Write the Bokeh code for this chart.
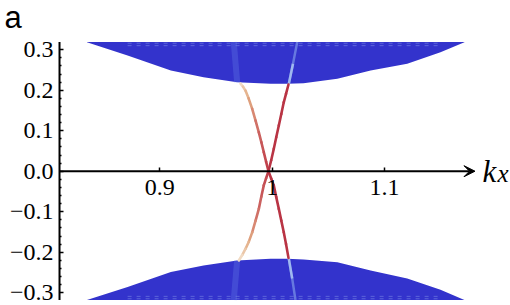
from bokeh.plotting import figure
from bokeh.models import Range1d, FixedTicker, Label, Arrow, VeeHead
from bokeh.embed import file_html
from bokeh.resources import INLINE

# ---------------- data ----------------
# visible window of the whole canvas, in data units
view_k = (0.75817, 1.21211)
view_E = (-0.33160, 0.42148)
# where the drawn axes start / end
axis_k_start, axis_k_end = 0.8107, 1.1805
axis_E_start, axis_E_end = -0.3178, 0.3190

band_k = [0.8351, 0.8713, 0.9098, 0.9389, 0.9688, 0.9985, 1.0134, 1.0279, 1.0580, 1.0876, 1.1202, 1.1498, 1.1711]
upper_band_edge = [0.3185, 0.2857, 0.2486, 0.2321, 0.2198, 0.2158, 0.2158, 0.2173, 0.2281, 0.2486, 0.2652, 0.2938, 0.3185]
lower_band_edge = [-0.3178, -0.2860, -0.2490, -0.2330, -0.2205, -0.2160, -0.2160, -0.2180, -0.2247, -0.2450, -0.2650, -0.2930, -0.3178]

upper_left_k = [0.9718, 0.9740, 0.9762, 0.9790, 0.9822, 0.9852, 0.9881, 0.9904, 0.9925, 0.9946, 0.9967]
upper_left_E = [0.216, 0.209, 0.199, 0.180, 0.154, 0.125, 0.096, 0.071, 0.047, 0.023, 0.0]
upper_right_k = [1.0145, 1.0123, 1.0103, 1.0081, 1.0059, 1.0036, 1.0014, 0.9991, 0.9967]
upper_right_E = [0.214, 0.191, 0.170, 0.141, 0.113, 0.084, 0.055, 0.027, 0.0]
lower_left_k = [0.9967, 0.9946, 0.9925, 0.9903, 0.9881, 0.9852, 0.9822, 0.9792, 0.9762, 0.9733, 0.9703]
lower_left_E = [0.0, -0.017, -0.035, -0.063, -0.093, -0.122, -0.151, -0.174, -0.192, -0.207, -0.2205]
lower_right_k = [0.9967, 0.9991, 1.0014, 1.0036, 1.0059, 1.0081, 1.0103, 1.0123, 1.0145]
lower_right_E = [0.0, -0.018, -0.035, -0.064, -0.093, -0.122, -0.151, -0.180, -0.214]

# light streaks inside the bulk bands
streak_bright_upper_k = [1.0148, 1.0185, 1.0223]
streak_bright_upper_E = [0.2158, 0.2650, 0.3190]
streak_bright_lower_k = [1.0148, 1.0178, 1.0207]
streak_bright_lower_E = [-0.2160, -0.2650, -0.3178]
streak_soft_upper_k = [0.9688, 0.9658]
streak_soft_upper_E = [0.2198, 0.3190]
streak_soft_lower_k = [0.9688, 0.9658]
streak_soft_lower_E = [-0.2205, -0.3178]
# faint rows of lighter dashes near the clipped edges of the bands
texture_upper_E = [0.3160, 0.3100]
texture_lower_E = [-0.3150, -0.3090]

y_ticks = [-0.3, -0.2, -0.1, 0.0, 0.1, 0.2, 0.3]
y_tick_labels = ["\u22120.3", "\u22120.2", "\u22120.1", "0.0", "0.1", "0.2", "0.3"]
y_minor_ticks = [-0.28, -0.26, -0.24, -0.22, -0.18, -0.16, -0.14, -0.12, -0.08, -0.06, -0.04, -0.02,
                 0.02, 0.04, 0.06, 0.08, 0.12, 0.14, 0.16, 0.18, 0.22, 0.24, 0.26, 0.28]
x_ticks = [0.9, 1.0, 1.1]
x_tick_labels = ["0.9", "1", "1.1"]
panel_letter = "a"
x_symbol, x_subscript = "k", "x"

# ---------------- styles ----------------
BAND = "#3333cc"
TICK_FONT = "Liberation Serif"


def lerp_color(stops, t):
    for (t0, c0), (t1, c1) in zip(stops, stops[1:]):
        if t <= t1:
            f = (t - t0) / (t1 - t0) if t1 > t0 else 0
            c = [round(a + (b - a) * f) for a, b in zip(c0, c1)]
            return "#%02x%02x%02x" % tuple(c)
    c = stops[-1][1]
    return "#%02x%02x%02x" % tuple(c)


fade_stops = [(0.0, (244, 228, 208)), (0.3, (226, 170, 130)), (0.6, (205, 102, 98)), (1.0, (190, 60, 72))]
DARK_RED = "#b93444"

p = figure(width=510, height=305, output_backend="svg", toolbar_location=None,
           x_range=Range1d(*view_k), y_range=Range1d(*view_E), min_border=0)
p.title.visible = False
p.outline_line_color = None
p.grid.visible = False
p.background_fill_color = "white"
p.border_fill_color = "white"

# bulk bands
p.varea(x=band_k, y1=upper_band_edge, y2=[axis_E_end] * len(band_k), fill_color=BAND)
p.varea(x=band_k, y1=[axis_E_start] * len(band_k), y2=lower_band_edge, fill_color=BAND)

# faint texture rows (kept inside the band outline)
for e in texture_upper_E + texture_lower_E:
    inside = [k for k, edge in zip(band_k, upper_band_edge if e > 0 else lower_band_edge)
              if abs(edge) < abs(e)]
    if inside:
        p.line([inside[0], inside[-1]], [e, e], line_color="#7f8fe8", line_width=1,
               line_alpha=0.55, line_dash="4 5")

# streaks
for ks, es in [(streak_soft_upper_k, streak_soft_upper_E), (streak_soft_lower_k, streak_soft_lower_E)]:
    p.line(ks, es, line_color="#6a84ec", line_width=6, line_alpha=0.3)
for ks, es in [(streak_bright_upper_k, streak_bright_upper_E), (streak_bright_lower_k, streak_bright_lower_E)]:
    p.line(ks, es, line_color="#8fb0f0", line_width=2.5, line_alpha=0.55)
    p.line(ks[:2], es[:2], line_color="#b8d4f6", line_width=2.5, line_alpha=0.7)


def draw_branch(ks, es, faded, from_band):
    n = len(ks) - 1
    x0, y0, x1, y1, cols = [], [], [], [], []
    for i in range(n):
        x0.append(ks[i]); y0.append(es[i]); x1.append(ks[i + 1]); y1.append(es[i + 1])
        if faded:
            t = (i + 0.5) / n
            if not from_band:
                t = 1 - t
            cols.append(lerp_color(fade_stops, t))
        else:
            cols.append(DARK_RED)
    p.segment(x0=x0, y0=y0, x1=x1, y1=y1, line_color=cols, line_width=2.6, line_cap="round")


draw_branch(upper_left_k, upper_left_E, True, True)
draw_branch(lower_left_k, lower_left_E, True, False)
draw_branch(upper_right_k, upper_right_E, False, True)
draw_branch(lower_right_k, lower_right_E, False, False)

# axis lines (the Bokeh axes below supply ticks and labels)
p.segment(x0=[axis_k_start], y0=[axis_E_start], x1=[axis_k_start], y1=[axis_E_end],
          line_color="black", line_width=2)
p.add_layout(Arrow(end=VeeHead(size=11, fill_color="black", line_color="black", line_width=1),
                   x_start=axis_k_start, y_start=0, x_end=axis_k_end, y_end=0,
                   line_width=2, line_color="black"))

# y axis
ya = p.yaxis[0]
ya.fixed_location = axis_k_start
ya.ticker = FixedTicker(ticks=y_ticks, minor_ticks=y_minor_ticks)
ya.major_label_overrides = {v: s for v, s in zip(y_ticks, y_tick_labels)}
ya.axis_line_color = None
ya.major_tick_in = 4
ya.major_tick_out = 0
ya.major_tick_line_width = 1.5
ya.minor_tick_in = 2
ya.minor_tick_out = 0
ya.minor_tick_line_width = 1.5
ya.major_label_standoff = 6
ya.major_label_text_font = TICK_FONT
ya.major_label_text_font_size = "24px"
ya.major_label_text_color = "black"

# x axis (at E = 0)
xa = p.xaxis[0]
xa.fixed_location = 0
xa.ticker = FixedTicker(ticks=x_ticks, minor_ticks=[])
xa.major_label_overrides = {v: s for v, s in zip(x_ticks, x_tick_labels)}
xa.axis_line_color = None
xa.major_tick_in = 4
xa.major_tick_out = 0
xa.major_tick_line_width = 1.5
xa.minor_tick_line_color = None
xa.major_label_standoff = 9
xa.major_label_text_font = TICK_FONT
xa.major_label_text_font_size = "24px"
xa.major_label_text_color = "black"

# labels (screen units, measured from the lower-left corner)
p.add_layout(Label(x=482, y=134, x_units="screen", y_units="screen", text=x_symbol,
                   text_font=TICK_FONT, text_font_style="italic", text_font_size="31px",
                   text_color="black", text_baseline="alphabetic"))
p.add_layout(Label(x=497, y=132, x_units="screen", y_units="screen", text=x_subscript,
                   text_font=TICK_FONT, text_font_style="italic", text_font_size="25px",
                   text_color="black", text_baseline="alphabetic"))
p.add_layout(Label(x=4, y=288, x_units="screen", y_units="screen", text=panel_letter,
                   text_font="Liberation Sans", text_font_size="31px",
                   text_color="black", text_baseline="alphabetic"))

open("out.html", "w").write(file_html(p, INLINE))
